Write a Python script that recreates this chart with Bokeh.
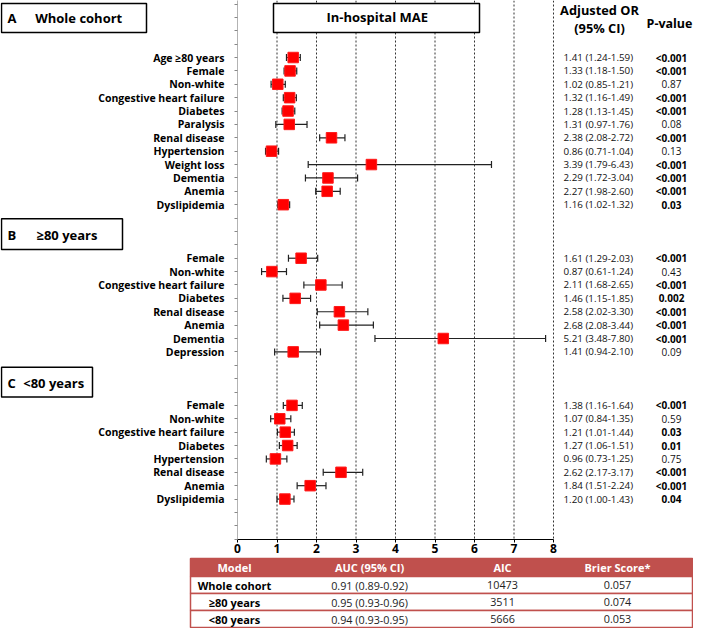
import numpy as np
from bokeh.plotting import figure
from bokeh.models import Range1d, LinearAxis, FixedTicker, ColumnDataSource
from bokeh.core.properties import value
from bokeh.embed import file_html
from bokeh.resources import INLINE

FONT = value("Open Sans")

# ---------------- data ----------------
section_letters = ["A", "B", "C"]
section_names = ["Whole cohort", "≥80 years", "<80 years"]
panel_title = "In-hospital MAE"

a_labels = ["Age ≥80 years", "Female", "Non-white", "Congestive heart failure", "Diabetes",
            "Paralysis", "Renal disease", "Hypertension", "Weight loss", "Dementia",
            "Anemia", "Dyslipidemia"]
a_or = [1.41, 1.33, 1.02, 1.32, 1.28, 1.31, 2.38, 0.86, 3.39, 2.29, 2.27, 1.16]
a_lo = [1.24, 1.18, 0.85, 1.16, 1.13, 0.97, 2.08, 0.71, 1.79, 1.72, 1.98, 1.02]
a_hi = [1.59, 1.50, 1.21, 1.49, 1.45, 1.76, 2.72, 1.04, 6.43, 3.04, 2.60, 1.32]
a_p = ["<0.001", "<0.001", "0.87", "<0.001", "<0.001", "0.08", "<0.001", "0.13",
       "<0.001", "<0.001", "<0.001", "0.03"]

b_labels = ["Female", "Non-white", "Congestive heart failure", "Diabetes", "Renal disease",
            "Anemia", "Dementia", "Depression"]
b_or = [1.61, 0.87, 2.11, 1.46, 2.58, 2.68, 5.21, 1.41]
b_lo = [1.29, 0.61, 1.68, 1.15, 2.02, 2.08, 3.48, 0.94]
b_hi = [2.03, 1.24, 2.65, 1.85, 3.30, 3.44, 7.80, 2.10]
b_p = ["<0.001", "0.43", "<0.001", "0.002", "<0.001", "<0.001", "<0.001", "0.09"]

c_labels = ["Female", "Non-white", "Congestive heart failure", "Diabetes", "Hypertension",
            "Renal disease", "Anemia", "Dyslipidemia"]
c_or = [1.38, 1.07, 1.21, 1.27, 0.96, 2.62, 1.84, 1.20]
c_lo = [1.16, 0.84, 1.01, 1.06, 0.73, 2.17, 1.51, 1.00]
c_hi = [1.64, 1.35, 1.44, 1.51, 1.25, 3.17, 2.24, 1.43]
c_p = ["<0.001", "0.59", "0.03", "0.01", "0.75", "<0.001", "<0.001", "0.04"]

x_ticks = [0, 1, 2, 3, 4, 5, 6, 7, 8]

table_header = ["Model", "AUC (95% CI)", "AIC", "Brier Score*"]
table_model = ["Whole cohort", "≥80 years", "<80 years"]
table_auc = ["0.91 (0.89-0.92)", "0.95 (0.93-0.96)", "0.94 (0.93-0.95)"]
table_aic = [10473, 3511, 5666]
table_brier = [0.057, 0.074, 0.053]

# ---------------- layout ----------------
W, H = 693, 628
PXX = 39.5            # px per OR unit
X0 = 237              # canvas px of OR = 0
PXY = 13.38           # px per row slot
Y0 = 3.5              # canvas px of slot 0
K_AXIS = 40

def sx(px):           # canvas px -> data x
    return (px - X0) / PXX

def sk(py):           # canvas px -> row coordinate
    return (py - Y0) / PXY

def rk(py):           # reference row position (px) -> row coordinate
    return (py - 3.5) / 13.43

x_range = Range1d(sx(0), sx(W))
y_range = Range1d(sk(H), sk(0))

p = figure(width=W, height=H, x_range=x_range, y_range=y_range,
           output_backend="svg", toolbar_location=None, min_border=0,
           x_axis_type=None, y_axis_type=None, outline_line_color=None,
           background_fill_color="white", border_fill_color="white")
p.grid.visible = False

# axes
yax = LinearAxis(fixed_location=0, bounds=(sk(0), K_AXIS),
                 ticker=FixedTicker(ticks=list(range(0, K_AXIS + 1))),
                 axis_line_color="#666666", axis_line_dash="1 1", axis_line_width=1,
                 major_tick_line_color="#888888", major_tick_out=3, major_tick_in=0,
                 minor_tick_out=0, minor_tick_in=0, major_label_text_color=None)
p.add_layout(yax, "left")

xax = LinearAxis(fixed_location=K_AXIS, bounds=(0, 8), ticker=FixedTicker(ticks=x_ticks),
                 axis_line_color="black", axis_line_width=1.2,
                 major_tick_line_color="black", major_tick_out=3, major_tick_in=0,
                 minor_tick_out=0, minor_tick_in=0, major_label_standoff=2,
                 major_label_text_font="Open Sans", major_label_text_font_size="12px",
                 major_label_text_font_style="bold", major_label_text_color="black")
p.add_layout(xax, "below")

# dotted reference lines at tick positions
p.segment(x0=x_ticks[1:], y0=sk(0), x1=x_ticks[1:], y1=K_AXIS,
          line_color="#333333", line_dash="2 2", line_width=1)

# rows
starts = [4, 19, 30]
groups = [(a_labels, a_or, a_lo, a_hi, a_p),
          (b_labels, b_or, b_lo, b_hi, b_p),
          (c_labels, c_or, c_lo, c_hi, c_p)]

rows = dict(label=[], y=[], orv=[], lo=[], hi=[], ortext=[], p=[], pbold=[])
for st, (lab, orv, lo, hi, pv) in zip(starts, groups):
    for i in range(len(lab)):
        rows["label"].append(lab[i])
        rows["y"].append(st + i)
        rows["orv"].append(orv[i])
        rows["lo"].append(lo[i])
        rows["hi"].append(hi[i])
        rows["ortext"].append(f"{orv[i]:.2f} ({lo[i]:.2f}-{hi[i]:.2f})")
        rows["p"].append(pv[i])
        rows["pbold"].append(pv[i].startswith("<") or float(pv[i]) < 0.05)

src = ColumnDataSource({k: v for k, v in rows.items() if k != "pbold"})

# error bars
p.segment(x0="lo", y0="y", x1="hi", y1="y", source=src, line_color="#222222", line_width=1.2)
p.scatter(x="lo", y="y", source=src, marker="dash", angle=np.pi / 2, size=7,
          line_color="#222222", line_width=1.2)
p.scatter(x="hi", y="y", source=src, marker="dash", angle=np.pi / 2, size=7,
          line_color="#222222", line_width=1.2)
# point estimates
p.scatter(x="orv", y="y", source=src, marker="square", size=10.5,
          fill_color="#FF0000", line_color="#FF1a1a", line_width=1)

# row labels
p.text(x=sx(224), y="y", text="label", source=src, text_font=FONT,
       text_font_size="10.5px", text_font_style="bold", text_align="right",
       text_baseline="middle", text_color="black")

# OR column
p.text(x=sx(563), y="y", text="ortext", source=src, text_font=FONT,
       text_font_size="9.8px", text_align="left", text_baseline="middle",
       text_color="#111111")

# P-values
bidx = [i for i, b in enumerate(rows["pbold"]) if b]
nidx = [i for i, b in enumerate(rows["pbold"]) if not b]
p.text(x=sx(671), y=[rows["y"][i] for i in bidx], text=[rows["p"][i] for i in bidx],
       text_font=FONT, text_font_size="10px", text_font_style="bold",
       text_align="center", text_baseline="middle", text_color="black")
p.text(x=sx(671), y=[rows["y"][i] for i in nidx], text=[rows["p"][i] for i in nidx],
       text_font=FONT, text_font_size="10px", text_align="center",
       text_baseline="middle", text_color="#111111")

# column headers
p.text(x=sx(599), y=[rk(10), rk(27.7)], text=["Adjusted OR", "(95% CI)"], text_font=FONT,
       text_font_size="12.8px", text_font_style="bold", text_align="center",
       text_baseline="middle", text_color="black")
p.text(x=sx(669), y=rk(22.7), text=["P-value"], text_font=FONT,
       text_font_size="12.5px", text_font_style="bold", text_align="center",
       text_baseline="middle", text_color="black")

# title box in plot
p.quad(left=sx(273), right=sx(479), top=rk(3), bottom=rk(32), fill_color="white",
       line_color="black", line_width=1.5)
p.text(x=sx(376.7), y=rk(17), text=[panel_title], text_font=FONT, text_font_size="13px",
       text_font_style="bold", text_align="center", text_baseline="middle", text_color="black")

# section boxes
box_right = [146, 122, 92]
box_top = [3, 219, 368]
box_bot = [32, 250, 398]
name_x = [34.7, 36, 22.7]
for i in range(3):
    p.quad(left=sx(1), right=sx(box_right[i]), top=rk(box_top[i]), bottom=rk(box_bot[i]),
           fill_color="white", line_color="black", line_width=1.5)
    yc = rk((box_top[i] + box_bot[i]) / 2 + 0.5)
    p.text(x=sx(7), y=yc, text=[section_letters[i]], text_font=FONT, text_font_size="13px",
           text_font_style="bold", text_align="left", text_baseline="middle", text_color="black")
    p.text(x=sx(name_x[i]), y=yc, text=[section_names[i]], text_font=FONT,
           text_font_size="13px", text_font_style="bold", text_align="left",
           text_baseline="middle", text_color="black")

# ---------------- table ----------------
RED = "#C0504D"
t_left, t_right = sx(190), sx(692)
t_edges = [558, 576, 593, 610, 627]
col_x = [sx(234), sx(369), sx(502), sx(617)]

p.quad(left=t_left, right=t_right, top=sk(t_edges[0]), bottom=sk(t_edges[1]),
       fill_color=RED, line_color=RED, line_width=1.5)
p.quad(left=t_left, right=t_right, top=[sk(v) for v in t_edges[1:4]],
       bottom=[sk(v) for v in t_edges[2:5]], fill_color="white", line_color=RED, line_width=1.5)

hy = sk((t_edges[0] + t_edges[1]) / 2)
p.text(x=col_x, y=hy, text=table_header, text_font=FONT, text_font_size="11px",
       text_font_style="bold", text_align="center", text_baseline="middle", text_color="white")

ry = [sk((t_edges[i] + t_edges[i + 1]) / 2) for i in range(1, 4)]
p.text(x=col_x[0], y=ry, text=table_model, text_font=FONT, text_font_size="11px",
       text_font_style="bold", text_align="center", text_baseline="middle", text_color="black")
p.text(x=col_x[1], y=ry, text=table_auc, text_font=FONT, text_font_size="10.8px",
       text_align="center", text_baseline="middle", text_color="#222222")
p.text(x=col_x[2], y=ry, text=[str(v) for v in table_aic], text_font=FONT,
       text_font_size="10.8px", text_align="center", text_baseline="middle", text_color="#222222")
p.text(x=col_x[3], y=ry, text=[f"{v:.3f}" for v in table_brier], text_font=FONT,
       text_font_size="10.8px", text_align="center", text_baseline="middle", text_color="#222222")

open("out.html", "w").write(file_html(p, INLINE))
